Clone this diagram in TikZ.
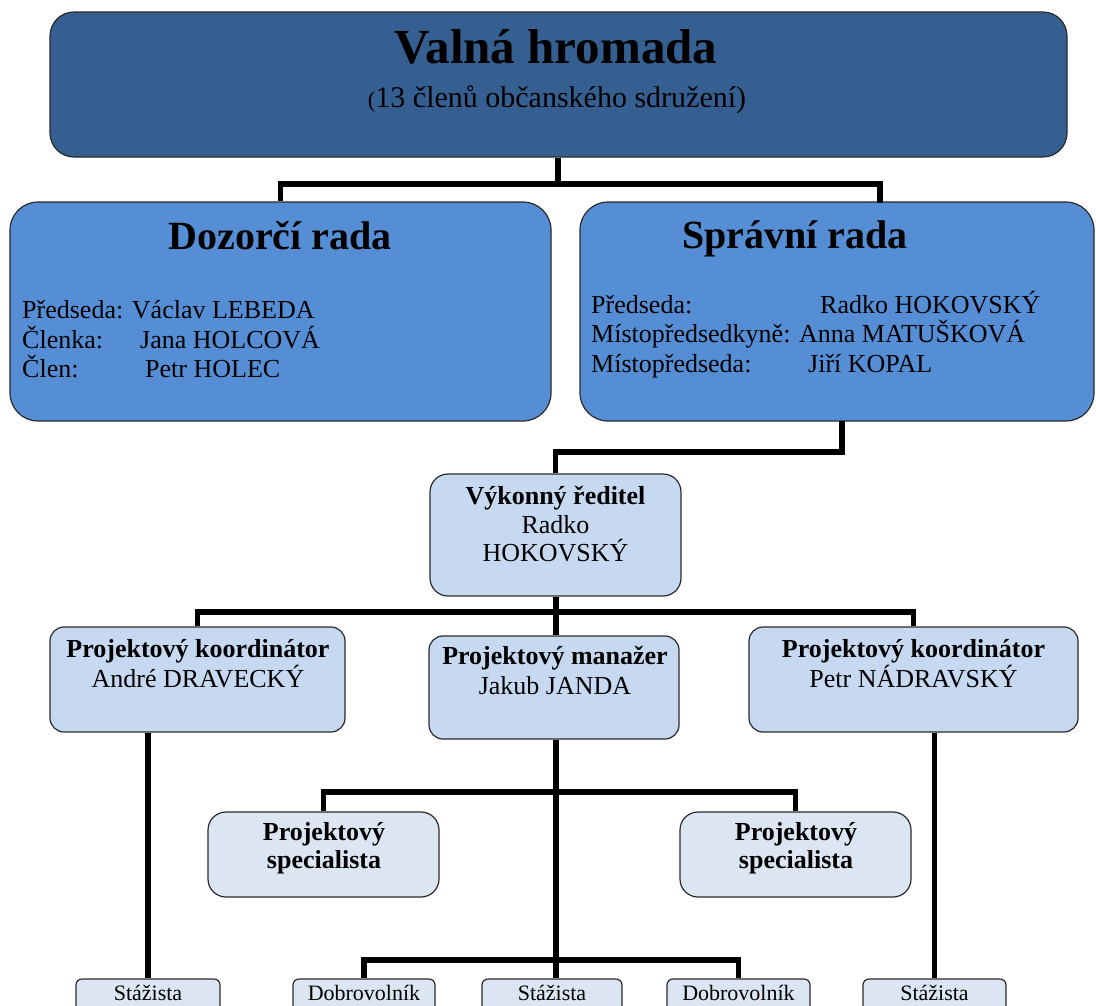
\documentclass[tikz,border=0pt]{standalone}
\usepackage{fontspec}
\setmainfont{Liberation Serif}
\definecolor{cA}{HTML}{365F91}
\definecolor{cB}{HTML}{558ED5}
\definecolor{cC}{HTML}{C6D9F1}
\definecolor{cD}{HTML}{DCE6F2}
\definecolor{bord}{HTML}{2A2A2A}
\tikzset{
  boxbase/.style={draw=bord, line width=1.2pt, inner sep=0pt},
  lvA/.style={boxbase, fill=cA, rounded corners=24pt},
  lvB/.style={boxbase, fill=cB, rounded corners=28pt},
  lvC/.style={boxbase, fill=cC, rounded corners=18pt},
  lvCs/.style={boxbase, fill=cC, rounded corners=14pt},
  lvD/.style={boxbase, fill=cD, rounded corners=18pt},
  lvE/.style={boxbase, fill=cD, rounded corners=6pt},
  conn/.style={line width=5.5pt, black, line join=miter},
  tc/.style={inner sep=0pt, anchor=base},
  tl/.style={inner sep=0pt, anchor=base west},
  ftitle/.style={font=\fontsize{49}{59}\selectfont\bfseries},
  fhead/.style={font=\fontsize{40}{48}\selectfont\bfseries},
  fbody/.style={font=\fontsize{26}{30}\selectfont},
  fbold/.style={font=\fontsize{26}{30}\selectfont\bfseries},
  fsmall/.style={font=\fontsize{22}{26}\selectfont},
}
\begin{document}
\begin{tikzpicture}[x=1pt,y=-1pt]
\clip (0,0) rectangle (1096,1005);
\fill[white] (0,0) rectangle (1096,1005);

% connectors (drawn first, boxes on top)
\coordinate (j1) at (558,184);
\coordinate (sr1) at (842,421);
\coordinate (j2) at (842,452);
\coordinate (h3) at (556,612);
\coordinate (hs) at (556,792);
\coordinate (hb) at (556,960);
\coordinate (srtop) at (880,203);

% boxes
\node[lvA, minimum width=1017pt, minimum height=145pt] (vh) at (558.5,84.5) {};
\node[lvB, minimum width=541pt, minimum height=219pt] (dr) at (280.5,311.5) {};
\node[lvB, minimum width=514pt, minimum height=219pt] (sr) at (837,311.5) {};
\node[lvC, minimum width=251pt, minimum height=122pt] (vr) at (555.5,535) {};
\node[lvCs, minimum width=295pt, minimum height=105pt] (k1) at (197.5,679.5) {};
\node[lvCs, minimum width=250pt, minimum height=103pt] (pm) at (554,687.5) {};
\node[lvCs, minimum width=329pt, minimum height=105pt] (k2) at (913.5,679.5) {};
\node[lvD, minimum width=231pt, minimum height=85pt] (sp1) at (323.5,854.5) {};
\node[lvD, minimum width=231pt, minimum height=85pt] (sp2) at (795.5,854.5) {};
\node[lvE, minimum width=144pt, minimum height=48pt] (s1) at (148,1003) {};
\node[lvE, minimum width=142pt, minimum height=48pt] (d1) at (364,1003) {};
\node[lvE, minimum width=140pt, minimum height=48pt] (s3) at (552,1003) {};
\node[lvE, minimum width=143pt, minimum height=48pt] (d2) at (738.5,1003) {};
\node[lvE, minimum width=143pt, minimum height=48pt] (s5) at (934.5,1003) {};

% connector lines
\draw[conn] (vh.south -| j1) -- (j1);
\draw[conn] (j1) -| (dr.north);
\draw[conn] (j1) -| (srtop);
\draw[conn] (sr1) -- (j2) -| (vr.north);
\draw[conn] (vr.south -| h3) -- (h3);
\draw[conn] (h3) -| (k1.north);
\draw[conn] (h3) -| (k2.north);
\draw[conn] (h3) -- (h3 |- pm.north);
\draw[conn] (pm.south -| h3) -- (h3 |- s3.north);
\draw[conn] (hs) -| (sp1.north);
\draw[conn] (hs) -| (sp2.north);
\draw[conn] (hb) -| (d1.north);
\draw[conn] (hb) -| (d2.north);
\draw[conn] (s1.north |- k1.south) -- (s1.north);
\draw[conn] (s5.north |- k2.south) -- (s5.north);

% texts
\node[tc, ftitle] (tVH) at (556,63) {Valná hromada};
\node[tc, font=\fontsize{30}{36}\selectfont] (tVHs) at (557,107) {{\fontsize{23}{26}\selectfont(}13 členů občanského sdružení)};

\node[tc, fhead] (tDR) at (280,249) {Dozorčí rada};
\node[tl, fbody] (tDR1a) at (22,318) {Předseda: Václav LEBEDA};
\node[tl, fbody] (tDR2a) at (22,348) {Členka:};
\node[tl, fbody] (tDR2b) at (140,348) {Jana HOLCOVÁ};
\node[tl, fbody] (tDR3a) at (22,377) {Člen:};
\node[tl, fbody] (tDR3b) at (145,377) {Petr HOLEC};

\node[tc, fhead] (tSR) at (795,248) {Správní rada};
\node[tl, fbody] (tSR1a) at (591,313) {Předseda:};
\node[tl, fbody] (tSR1b) at (820,313) {Radko HOKOVSKÝ};
\node[tl, fbody] (tSR2a) at (591,342) {Místopředsedkyně: Anna MATUŠKOVÁ};
\node[tl, fbody] (tSR3a) at (591,372) {Místopředseda:};
\node[tl, fbody] (tSR3b) at (808,372) {Jiří KOPAL};

\node[tc, fbold] (tVR1) at (555.5,504) {Výkonný ředitel};
\node[tc, fbody] (tVR2) at (555.5,533) {Radko};
\node[tc, fbody] (tVR3) at (555.5,561) {HOKOVSKÝ};

\node[tc, fbold] (tK1a) at (198,657) {Projektový koordinátor};
\node[tc, fbody] (tK1b) at (198,687) {André DRAVECKÝ};
\node[tc, fbold] (tPMa) at (555,664) {Projektový manažer};
\node[tc, fbody] (tPMb) at (555,694) {Jakub JANDA};
\node[tc, fbold] (tK2a) at (913.5,657) {Projektový koordinátor};
\node[tc, fbody] (tK2b) at (913.5,687) {Petr NÁDRAVSKÝ};

\node[tc, fbold] (tSP1a) at (324,840) {Projektový};
\node[tc, fbold] (tSP1b) at (324,868) {specialista};
\node[tc, fbold] (tSP2a) at (796,840) {Projektový};
\node[tc, fbold] (tSP2b) at (796,868) {specialista};

\node[tc, fsmall] (tS1) at (148,1000) {Stážista};
\node[tc, fsmall] (tD1) at (364,1000) {Dobrovolník};
\node[tc, fsmall] (tS3) at (552,1000) {Stážista};
\node[tc, fsmall] (tD2) at (738.5,1000) {Dobrovolník};
\node[tc, fsmall] (tS5) at (934.5,1000) {Stážista};
\end{tikzpicture}
\end{document}
